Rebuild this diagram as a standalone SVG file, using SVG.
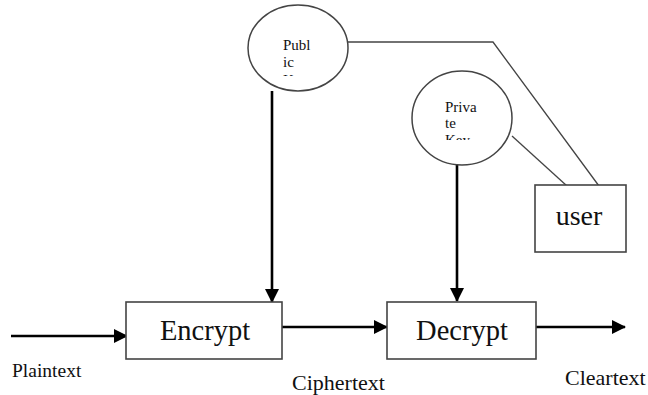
<svg xmlns="http://www.w3.org/2000/svg" width="648" height="395" viewBox="0 0 648 395">
<style>
  .box { fill: #ffffff; stroke: #444444; stroke-width: 1.6; }
  .circ { fill: #ffffff; stroke: #444444; stroke-width: 1.5; }
  .thin { fill: none; stroke: #444444; stroke-width: 1.3; }
  .arrow { fill: none; stroke: #000000; stroke-width: 2.6; marker-end: url(#ah); }
  .t { font-family: "Liberation Serif", "Times New Roman", serif; fill: #111111; }
  .key { font-size: 15px; }
  .big { font-size: 28.5px; }
  .lab { font-size: 22px; }
</style>
<defs>
  <marker id="ah" viewBox="0 0 14 14" refX="13" refY="7" markerWidth="14" markerHeight="14" markerUnits="userSpaceOnUse" orient="auto">
    <path d="M0,0 L14,7 L0,14 z" fill="#000000"/>
  </marker>
  <clipPath id="clipPub"><rect x="240" y="0" width="120" height="76"/></clipPath>
  <clipPath id="clipPriv"><rect x="400" y="60" width="130" height="80"/></clipPath>
</defs>
<rect width="648" height="395" fill="#ffffff"/>

<g id="connectors">
  <polyline class="thin" points="347,42 493,42 599,186"/>
  <line class="thin" x1="512" y1="136" x2="567" y2="186"/>
  <line class="arrow" x1="272" y1="91" x2="272" y2="302"/>
  <line class="arrow" x1="457" y1="165" x2="457" y2="301"/>
  <line class="arrow" x1="11" y1="336" x2="127" y2="336"/>
  <line class="arrow" x1="282" y1="327" x2="387" y2="327"/>
  <line class="arrow" x1="536" y1="327" x2="625" y2="327"/>
</g>

<g id="public-key">
  <ellipse class="circ" cx="298" cy="48" rx="50" ry="43"/>
  <g clip-path="url(#clipPub)">
    <text class="t key" x="283" y="50">Publ</text>
    <text class="t key" x="283" y="67">ic</text>
    <text class="t key" x="283" y="85">Key</text>
  </g>
</g>

<g id="private-key">
  <ellipse class="circ" cx="462" cy="118" rx="50" ry="47"/>
  <g clip-path="url(#clipPriv)">
    <text class="t key" x="445" y="112">Priva</text>
    <text class="t key" x="445" y="128">te</text>
    <text class="t key" x="445" y="145">Key</text>
  </g>
</g>

<g id="user">
  <rect class="box" x="535" y="185" width="91" height="67"/>
  <text class="t" x="579" y="225" text-anchor="middle" font-size="28">user</text>
</g>

<g id="encrypt">
  <rect class="box" x="126" y="302" width="156" height="57"/>
  <text class="t big" x="205" y="340" text-anchor="middle">Encrypt</text>
</g>

<g id="decrypt">
  <rect class="box" x="387" y="302" width="149" height="57"/>
  <text class="t big" x="462" y="340" text-anchor="middle">Decrypt</text>
</g>

<g id="labels">
  <text class="t" x="12" y="377" font-size="19.5">Plaintext</text>
  <text class="t lab" x="292" y="390">Ciphertext</text>
  <text class="t lab" x="565" y="385">Cleartext</text>
</g>
</svg>
